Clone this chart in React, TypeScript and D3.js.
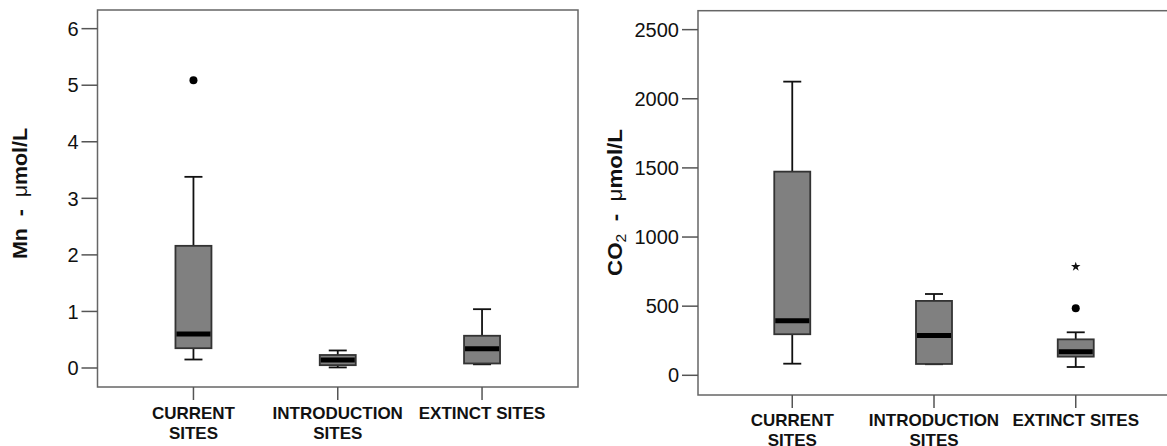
import React from "react";
import * as d3 from "d3";

// categories shared by both panels
const categories = ["CURRENT SITES", "INTRODUCTION SITES", "EXTINCT SITES"];
const categoryLines = [["CURRENT", "SITES"], ["INTRODUCTION", "SITES"], ["EXTINCT SITES"]];

// Mn (µmol/L) box stats
const mnWhiskerLow = [0.15, 0.01, 0.065];
const mnQ1 = [0.35, 0.05, 0.08];
const mnMedian = [0.6, 0.14, 0.34];
const mnQ3 = [2.16, 0.23, 0.57];
const mnWhiskerHigh = [3.38, 0.31, 1.04];
const mnOutliers = [[5.09], [], []];
const mnExtremes = [[], [], []];
const mnTicks = [0, 1, 2, 3, 4, 5, 6];

// CO2 (µmol/L) box stats
const co2WhiskerLow = [84, 80, 60];
const co2Q1 = [297, 82, 135];
const co2Median = [395, 287, 171];
const co2Q3 = [1473, 538, 260];
const co2WhiskerHigh = [2124, 588, 311];
const co2Outliers = [[], [], [485]];
const co2Extremes = [[], [], [786]];
const co2Ticks = [0, 500, 1000, 1500, 2000, 2500];

const FONT = "'Liberation Sans', Arial, sans-serif";

function BoxPanel({ frame, domain, ticks, stats, labelBase, title, titleX, titleY, titleLen }) {
  const x = d3
    .scalePoint()
    .domain(categories)
    .range([frame.left, frame.right])
    .padding(0.665);
  const y = d3.scaleLinear().domain(domain).range([frame.bottom, frame.top]);
  const boxW = 36;
  const capW = 18;
  const star = d3.symbol(d3.symbolStar, 28)();

  return (
    <g>
      <rect
        x={frame.left}
        y={frame.top}
        width={frame.right - frame.left}
        height={frame.bottom - frame.top}
        fill="none"
        stroke="#666"
        strokeWidth={1.5}
      />
      {/* y axis */}
      {ticks.map((t) => (
        <g key={t}>
          <line x1={frame.left - 16} x2={frame.left} y1={y(t)} y2={y(t)} stroke="#555" strokeWidth={1.5} />
          <text
            x={frame.left - 19}
            y={y(t)}
            dy="0.36em"
            textAnchor="end"
            fontFamily={FONT}
            fontSize={20}
            fill="#111"
          >
            {t}
          </text>
        </g>
      ))}
      {/* x axis */}
      {categories.map((c, i) => (
        <g key={c}>
          <line x1={x(c)} x2={x(c)} y1={frame.bottom} y2={frame.bottom + 13} stroke="#555" strokeWidth={1.5} />
          {categoryLines[i].map((ln, j) => (
            <text
              key={j}
              x={x(c)}
              y={labelBase + j * 20}
              textAnchor="middle"
              fontFamily={FONT}
              fontWeight="bold"
              fontSize={17}
              fill="#111"
            >
              {ln}
            </text>
          ))}
        </g>
      ))}
      {/* boxes */}
      {categories.map((c, i) => {
        const cx = x(c);
        return (
          <g key={c}>
            <line x1={cx} x2={cx} y1={y(stats.high[i])} y2={y(stats.q3[i])} stroke="#111" strokeWidth={1.8} />
            <line x1={cx} x2={cx} y1={y(stats.q1[i])} y2={y(stats.low[i])} stroke="#111" strokeWidth={1.8} />
            <line x1={cx - capW / 2} x2={cx + capW / 2} y1={y(stats.high[i])} y2={y(stats.high[i])} stroke="#111" strokeWidth={1.8} />
            <line x1={cx - capW / 2} x2={cx + capW / 2} y1={y(stats.low[i])} y2={y(stats.low[i])} stroke="#111" strokeWidth={1.8} />
            <rect
              x={cx - boxW / 2}
              y={y(stats.q3[i])}
              width={boxW}
              height={y(stats.q1[i]) - y(stats.q3[i])}
              fill="#808080"
              stroke="#333"
              strokeWidth={1.8}
            />
            <line
              x1={cx - boxW / 2 + 1}
              x2={cx + boxW / 2 - 1}
              y1={y(stats.median[i])}
              y2={y(stats.median[i])}
              stroke="#000"
              strokeWidth={5}
            />
            {stats.outliers[i].map((v, k) => (
              <circle key={k} cx={cx} cy={y(v)} r={4} fill="#000" />
            ))}
            {stats.extremes[i].map((v, k) => (
              <path key={k} d={star} transform={`translate(${cx},${y(v)})`} fill="#111" />
            ))}
          </g>
        );
      })}
      {/* y title */}
      <text
        transform={`translate(${titleX},${titleY}) rotate(-90)`}
        textAnchor="middle"
        fontFamily={FONT}
        fontWeight="bold"
        fontSize={20}
        fill="#111"
        dy="0.36em"
        textLength={titleLen}
        lengthAdjust="spacingAndGlyphs"
        style={{ whiteSpace: "pre" }}
      >
        {title}
      </text>
    </g>
  );
}

export default function App() {
  return (
    <svg
      width={1167}
      height={446}
      style={{ position: "absolute", left: 0, top: 0, background: "#fff" }}
    >
      <BoxPanel
        frame={{ left: 97.5, right: 578, top: 10, bottom: 387 }}
        domain={[-0.336, 6.33]}
        ticks={mnTicks}
        stats={{
          low: mnWhiskerLow,
          q1: mnQ1,
          median: mnMedian,
          q3: mnQ3,
          high: mnWhiskerHigh,
          outliers: mnOutliers,
          extremes: mnExtremes,
        }}
        labelBase={419.3}
        titleX={20}
        titleY={193.5}
        titleLen={131}
        title={
          <>
            <tspan>Mn  -  </tspan>
            <tspan fontWeight="normal">μ</tspan>
            <tspan>mol/L</tspan>
          </>
        }
      />
      <BoxPanel
        frame={{ left: 698, right: 1170, top: 10.7, bottom: 395 }}
        domain={[-142.5, 2637]}
        ticks={co2Ticks}
        stats={{
          low: co2WhiskerLow,
          q1: co2Q1,
          median: co2Median,
          q3: co2Q3,
          high: co2WhiskerHigh,
          outliers: co2Outliers,
          extremes: co2Extremes,
        }}
        labelBase={426}
        titleX={615}
        titleY={202.5}
        titleLen={147}
        title={
          <>
            <tspan>CO</tspan>
            <tspan fontWeight="normal" fontSize={14} dy="4">2</tspan>
            <tspan dy="-4">  -  </tspan>
            <tspan fontWeight="normal">μ</tspan>
            <tspan>mol/L</tspan>
          </>
        }
      />
    </svg>
  );
}
